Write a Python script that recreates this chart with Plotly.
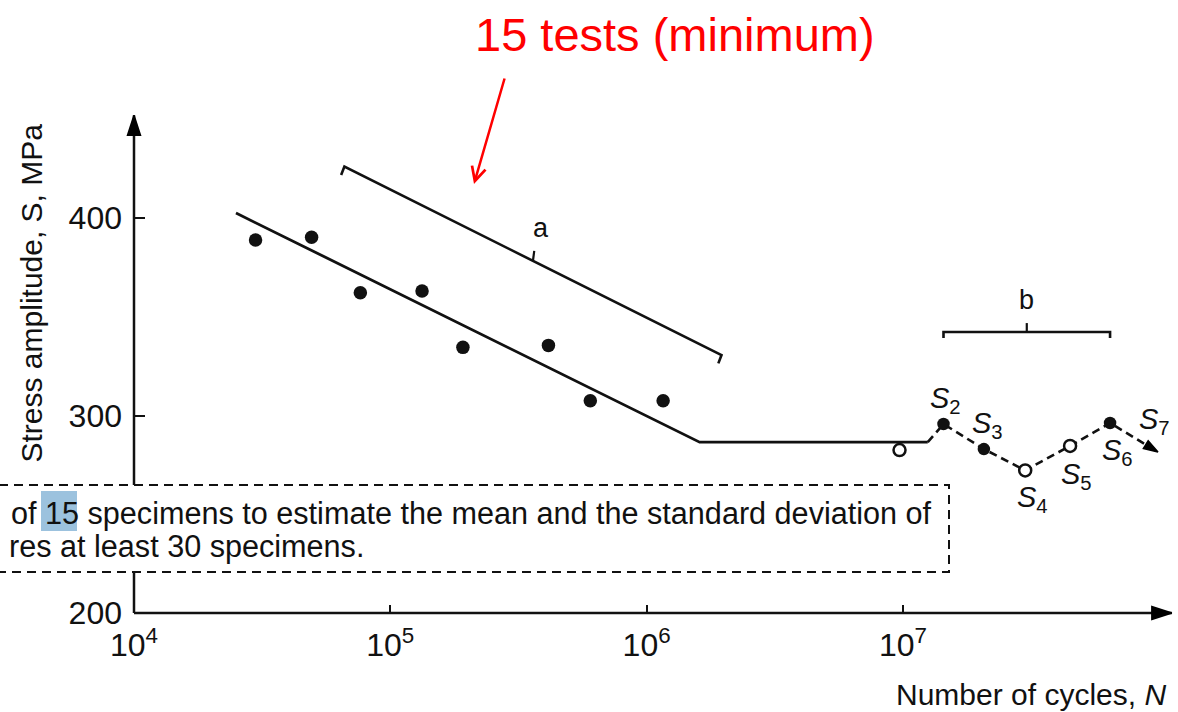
import numpy as np
import plotly.graph_objects as go

# ---------------- data ----------------
test_N = [2.98e4, 4.93e4, 7.64e4, 1.33e5, 1.92e5, 4.14e5, 6.03e5, 1.16e6]
test_S = [388.9, 390.2, 362.2, 363.0, 334.5, 335.5, 307.5, 307.5]

sn_curve_N = [2.50e4, 1.61e6, 1.25e7]
sn_curve_S = [402.5, 286.5, 286.5]

runout_N = [9.7e6]
runout_S = [282.5]

stair_names = ["S2", "S3", "S4", "S5", "S6", "S7"]
stair_N = [1.44e7, 2.07e7, 3.00e7, 4.49e7, 6.43e7, 9.89e7]
stair_S = [295.7, 283.0, 272.2, 284.6, 296.2, 281.5]
stair_result = ["fail", "fail", "runout", "runout", "fail", "next"]

bracket_a_N = [6.43e4, 6.62e4, 1.96e6, 1.905e6]
bracket_a_S = [421.8, 426.0, 330.6, 326.4]
bracket_b_N = [1.44e7, 1.44e7, 6.43e7, 6.43e7]
bracket_b_S = [339.2, 342.3, 342.3, 339.2]

x_tick_vals = [1e4, 1e5, 1e6, 1e7]
x_tick_text = ["10<sup>4</sup>", "10<sup>5</sup>", "10<sup>6</sup>", "10<sup>7</sup>"]
y_tick_vals = [200, 300, 400]
y_tick_text = ["200", "300", "400"]

axis_N_min, axis_N_max = 1e4, 1.12e8
axis_S_min, axis_S_max = 200, 452

# ---------------- geometry / style ----------------
W, H = 1178, 712
X_RANGE = [3.4772, 8.0733]
Y_RANGE = [149.87, 510.38]
INK = "#111111"
FONT = "Liberation Sans, Arial, Helvetica, sans-serif"


def px(x):
    return x / W


def py(y):
    return 1 - y / H


fig = go.Figure()

# axes lines
for xs, ys in (([axis_N_min, axis_N_min], [axis_S_min, axis_S_max]),
               ([axis_N_min, axis_N_max], [axis_S_min, axis_S_min])):
    fig.add_trace(go.Scatter(x=xs, y=ys, mode="lines", line=dict(color=INK, width=2.5),
                             hoverinfo="skip"))
    # arrow head at the end of the axis
    fig.add_trace(go.Scatter(
        x=xs, y=ys, mode="markers", opacity=1,
        marker=dict(symbol="arrow", size=[0, 21], angleref="previous", color="#000000",
                    opacity=1, line=dict(width=1.5, color="#000000")),
        hoverinfo="skip"))

# S-N curve
fig.add_trace(go.Scatter(x=sn_curve_N, y=sn_curve_S, mode="lines",
                         line=dict(color=INK, width=2.8), hoverinfo="skip"))

# test points
fig.add_trace(go.Scatter(x=test_N, y=test_S, mode="markers",
                         marker=dict(symbol="circle", size=13.5, color=INK), hoverinfo="skip"))

# bracket a
fig.add_trace(go.Scatter(x=bracket_a_N, y=bracket_a_S, mode="lines",
                         line=dict(color=INK, width=2.6), hoverinfo="skip"))
a_mid_logN = (np.log10(bracket_a_N[1]) + np.log10(bracket_a_N[2])) / 2
a_mid_S = (bracket_a_S[1] + bracket_a_S[2]) / 2
fig.add_trace(go.Scatter(x=[10 ** a_mid_logN, 10 ** (a_mid_logN + 0.005)], y=[a_mid_S, a_mid_S + 5],
                         mode="lines", line=dict(color=INK, width=2.2), hoverinfo="skip"))

# bracket b
fig.add_trace(go.Scatter(x=bracket_b_N, y=bracket_b_S, mode="lines",
                         line=dict(color=INK, width=2.6), hoverinfo="skip"))
b_mid_logN = (np.log10(bracket_b_N[1]) + np.log10(bracket_b_N[2])) / 2
fig.add_trace(go.Scatter(x=[10 ** b_mid_logN, 10 ** b_mid_logN], y=[bracket_b_S[1], bracket_b_S[1] + 4.5],
                         mode="lines", line=dict(color=INK, width=2.2), hoverinfo="skip"))

# staircase dashed path
path_N = [sn_curve_N[-1]] + stair_N
path_S = [sn_curve_S[-1]] + stair_S
fig.add_trace(go.Scatter(x=path_N, y=path_S, mode="lines",
                         line=dict(color=INK, width=2.6, dash="8px,5px"), hoverinfo="skip"))
fig.add_trace(go.Scatter(x=stair_N[-2:], y=stair_S[-2:], mode="markers", opacity=1,
                         marker=dict(symbol="arrow", size=[0, 15], angleref="previous", color="#000000",
                                     opacity=1, line=dict(width=1.5, color="#000000")),
                         hoverinfo="skip"))

fail_N = [n for n, r in zip(stair_N, stair_result) if r == "fail"]
fail_S = [s for s, r in zip(stair_S, stair_result) if r == "fail"]
run_N = runout_N + [n for n, r in zip(stair_N, stair_result) if r == "runout"]
run_S = runout_S + [s for s, r in zip(stair_S, stair_result) if r == "runout"]
fig.add_trace(go.Scatter(x=fail_N, y=fail_S, mode="markers",
                         marker=dict(symbol="circle", size=12.5, color=INK), hoverinfo="skip"))
fig.add_trace(go.Scatter(x=run_N, y=run_S, mode="markers",
                         marker=dict(symbol="circle", size=12, color="white",
                                     line=dict(color=INK, width=2.5)), hoverinfo="skip"))

annotations = []

# staircase labels (offsets in pixels from each level)
label_shift = [(2, 24), (4, 24), (7, -29), (6, -30), (7, -29), (-3, 31)]
for name, n, s, (dx, dy) in zip(stair_names, stair_N, stair_S, label_shift):
    annotations.append(dict(
        x=np.log10(n), y=s, xref="x", yref="y", showarrow=False,
        xanchor="center", yanchor="middle",
        text="<i>S</i><sub>%s</sub>" % name[1:], xshift=dx, yshift=dy,
        font=dict(family=FONT, size=29, color=INK)))

# bracket labels
annotations.append(dict(x=a_mid_logN, y=a_mid_S, xref="x", yref="y", showarrow=False,
                        xanchor="center", yanchor="middle",
                        text="a", xshift=8, yshift=33, font=dict(family=FONT, size=27, color=INK)))
annotations.append(dict(x=b_mid_logN, y=bracket_b_S[1], xref="x", yref="y", showarrow=False,
                        xanchor="center", yanchor="middle",
                        text="b", xshift=0, yshift=32, font=dict(family=FONT, size=27, color=INK)))

# axis titles
annotations.append(dict(x=px(31.5), y=py(293), xref="paper", yref="paper", showarrow=False,
                        xanchor="center", yanchor="middle",
                        text="Stress amplitude, S, MPa", textangle=-90,
                        font=dict(family=FONT, size=30, color=INK)))
annotations.append(dict(x=px(1168), y=py(694), xref="paper", yref="paper", showarrow=False,
                        xanchor="right", yanchor="middle", text="Number of cycles, <i>N</i>",
                        font=dict(family=FONT, size=30, color=INK)))

# red call-out
annotations.append(dict(x=px(675), y=py(35), xref="paper", yref="paper", showarrow=False,
                        xanchor="center", yanchor="middle",
                        text="15 tests (minimum)", font=dict(family=FONT, size=47, color="#ff0000")))
annotations.append(dict(x=px(474), y=py(184), xref="paper", yref="paper", text="",
                        showarrow=True, ax=31, ay=-107, arrowhead=5, arrowsize=1.1,
                        arrowwidth=2.5, arrowcolor="#ff0000"))

# boxed text
annotations.append(dict(x=px(9), y=py(513), xref="paper", yref="paper", showarrow=False,
                        xanchor="left", yanchor="middle",
                        text="of 15 specimens to estimate the mean and the standard deviation of",
                        font=dict(family=FONT, size=30.6, color=INK)))
annotations.append(dict(x=px(7), y=py(546), xref="paper", yref="paper", showarrow=False,
                        xanchor="left", yanchor="middle", text="res at least 30 specimens.",
                        font=dict(family=FONT, size=30.6, color=INK)))

shapes = [
    dict(type="rect", xref="paper", yref="paper", x0=px(-3), x1=px(949), y0=py(572), y1=py(485),
         line=dict(color=INK, width=2, dash="9px,6px"), fillcolor="white", layer="above"),
    dict(type="rect", xref="paper", yref="paper", x0=px(41), x1=px(77), y0=py(531), y1=py(491),
         line=dict(width=0), fillcolor="#9cc2de", layer="above"),
]

fig.update_layout(
    width=W, height=H, margin=dict(l=0, r=0, t=0, b=0),
    paper_bgcolor="white", plot_bgcolor="white", showlegend=False,
    annotations=annotations, shapes=shapes,
    xaxis=dict(type="log", range=X_RANGE, anchor="free", position=99 / H,
               tickvals=x_tick_vals, ticktext=x_tick_text, ticks="inside", ticklen=8,
               tickwidth=2, tickcolor=INK, showgrid=False, zeroline=False, showline=False,
               ticklabelstandoff=10,
               tickfont=dict(family=FONT, size=32, color=INK)),
    yaxis=dict(range=Y_RANGE, anchor="free", position=134 / W,
               tickvals=y_tick_vals, ticktext=y_tick_text, ticks="inside", ticklen=10,
               tickwidth=2, tickcolor=INK, showgrid=False, zeroline=False, showline=False,
               ticklabelstandoff=12,
               tickfont=dict(family=FONT, size=32, color=INK)),
)

fig.write_html("out.html")
